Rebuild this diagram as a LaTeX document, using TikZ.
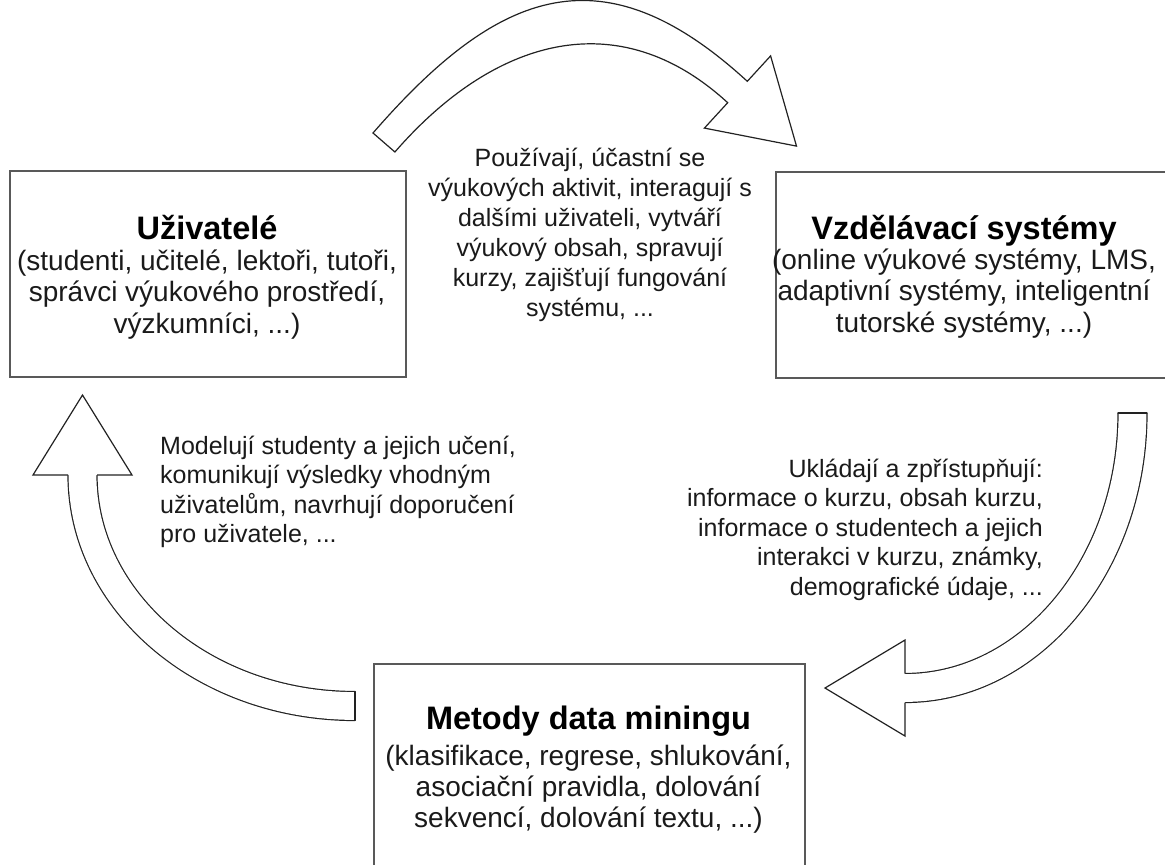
\documentclass[tikz,border=0pt]{standalone}
\usepackage{fontspec}
\setmainfont{Liberation Sans}
\definecolor{boxgray}{HTML}{595959}
\definecolor{arrowline}{HTML}{222222}
\definecolor{ink}{HTML}{1A1A1A}
% multi-line text blocks whose baseline is the first line
\newcommand\boxlines[1]{\fontsize{28}{31.3}\selectfont\begin{tabular}[t]{@{}c@{}}#1\end{tabular}}
\newcommand\midlines[3]{\fontsize{25}{#2}\selectfont\begin{tabular}[t]{@{}#1@{}}#3\end{tabular}}
\tikzset{
  box/.style={draw=boxgray, line width=2pt, anchor=north west, inner sep=0pt},
  boxtitle/.style={font=\fontsize{32.5}{36}\selectfont\bfseries, text=black, anchor=base, inner sep=0pt},
  boxtext/.style={text=ink, anchor=base, inner sep=0pt},
  flowtext/.style={text=ink, inner sep=0pt},
  arrowbody/.style={draw=arrowline, line width=1.2pt, double=white, double distance=27.8pt},
  arrowedge/.style={draw=arrowline, line width=1.2pt, line cap=round, line join=miter},
  arrowhead/.style={draw=arrowline, fill=white, line width=1.2pt, line join=miter},
}
\begin{document}
\begin{tikzpicture}[x=1pt, y=-1pt]
  \useasboundingbox (0,0) rectangle (1165,865);
  \clip (0,0) rectangle (1165,865);

  % the three boxes
  \node[box, minimum width=396pt, minimum height=206pt] (users) at (9,170) {};
  \node[box, minimum width=400pt, minimum height=206pt] (systems) at (775,171) {};
  \node[box, minimum width=431pt, minimum height=230pt] (mining) at (373,663) {};

  % box texts
  \node[boxtitle] (usersT) at (207,239.5) {Uživatelé};
  \node[boxtext] (usersB) at (207,270.5) {\boxlines{(studenti, učitelé, lektoři, tutoři,\\
    správci výukového prostředí,\\ výzkumníci, ...)}};

  \node[boxtitle] (systemsT) at (964,239) {Vzdělávací systémy};
  \node[boxtext] (systemsB) at (964,269.5) {\boxlines{(online výukové systémy, LMS,\\
    adaptivní systémy, inteligentní\\ tutorské systémy, ...)}};

  \node[boxtitle] (miningT) at (588.5,729) {Metody data miningu};
  \node[boxtext] (miningB) at (588.5,765) {\boxlines{(klasifikace, regrese, shlukování,\\
    asociační pravidla, dolování\\ sekvencí, dolování textu, ...)}};

  % upper curved arrow: users -> systems (band widens towards its crest)
  \coordinate (tOutTail) at (373,133);
  \coordinate (tInTail) at (394.9,152);
  \coordinate (tOutEnd) at (747.3,81.3);
  \coordinate (tInEnd) at (727.7,102.7);
  \coordinate (tOutBarb) at (770.6,55.9);
  \coordinate (tInBarb) at (704.4,128.1);
  \coordinate (tTip) at (796.5,146.1);
  \draw[arrowhead] (tOutTail) .. controls (500.3,-13.5) and (604.3,-49.8) .. (tOutEnd)
    -- (tOutBarb) -- (tTip) -- (tInBarb) -- (tInEnd)
    .. controls (617.4,1.5) and (493.1,39) .. (tInTail) -- cycle;

  % right curved arrow: systems -> mining
  \coordinate (r0) at (1132.5,413);
  \draw[arrowbody] (r0) arc[start angle=0, end angle=90, x radius=227.5, y radius=275];
  \draw[arrowedge] (1118,413) -- (1147,413);
  \draw[arrowhead] (905,673.5) -- (905,640) -- (825,688) -- (905,736) -- (905,702.5);

  % left curved arrow: mining -> users
  \coordinate (l0) at (355,706);
  \draw[arrowbody] (l0) arc[start angle=90, end angle=180, x radius=272.5, y radius=231];
  \draw[arrowedge] (355,691.5) -- (355,720.5);
  \draw[arrowhead] (68,475) -- (33,475) -- (82.5,395) -- (132,475) -- (97,475);

  % descriptions along the arrows
  \node[flowtext, anchor=base] (useText) at (590,166) {\midlines{c}{30}{Používají, účastní se\\
    výukových aktivit, interagují s\\ dalšími uživateli, vytváří\\
    výukový obsah, spravují\\ kurzy, zajišťují fungování\\ systému, ...}};
  \node[flowtext, anchor=base east] (storeText) at (1043,477) {\midlines{r}{29.5}{Ukládají a zpřístupňují:\\
    informace o kurzu, obsah kurzu,\\ informace o studentech a jejich\\
    interakci v kurzu, známky,\\ demografické údaje, ...}};
  \node[flowtext, anchor=base west] (modelText) at (160,454) {\midlines{l}{29.5}{Modelují studenty a jejich učení,\\
    komunikují výsledky vhodným\\ uživatelům, navrhují doporučení\\ pro uživatele, ...}};
\end{tikzpicture}
\end{document}
